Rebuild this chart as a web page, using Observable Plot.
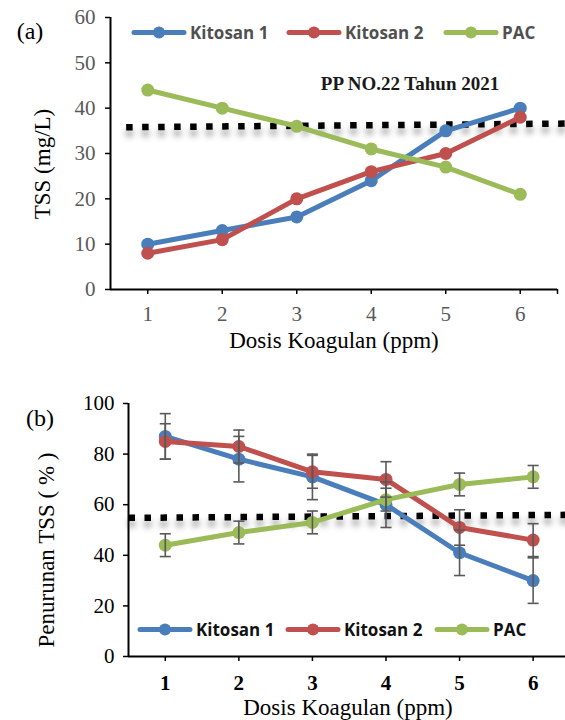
<!DOCTYPE html>
<html><head><meta charset="utf-8">
<script src="https://cdn.jsdelivr.net/npm/d3@7"></script>
<script src="https://cdn.jsdelivr.net/npm/@observablehq/plot@0.6"></script>
<style>
body{margin:0;background:#fff;}
#wrap{position:relative;width:565px;height:720px;overflow:hidden;font-family:"Liberation Serif","Times New Roman",serif;}
.panel{position:absolute;left:0;width:565px;height:360px;}
.ov{position:absolute;white-space:nowrap;transform:translate(-50%,-50%);line-height:1;}
.rot{transform:translate(-50%,-50%) rotate(-90deg);}
.leg{position:absolute;display:flex;align-items:center;transform:translateY(-50%);font-family:"Open Sans",sans-serif;font-weight:700;font-size:17px;white-space:nowrap;}
.leg svg{display:block;margin-right:3px;}
</style></head><body><div id="wrap"></div>
<script>
// ---- data ----
const doses = [1, 2, 3, 4, 5, 6];
const seriesNames = ["Kitosan 1", "Kitosan 2", "PAC"];
const seriesColors = ["#4A7EBB", "#C0504D", "#9BBB59"];
// (a) TSS (mg/L)
const tssK1 = [10, 13, 16, 24, 35, 40];
const tssK2 = [8, 11, 20, 26, 30, 38];
const tssPAC = [44, 40, 36, 31, 27, 21];
// (b) Penurunan TSS (%)
const remK1 = [87, 78, 71, 60, 41, 30];
const remK2 = [85, 83, 73, 70, 51, 46];
const remPAC = [44, 49, 53, 62, 68, 71];
const errK1 = [9, 9, 9, 9, 9, 9];
const errK2 = [7, 6.5, 6.5, 7, 7, 6.5];
const errPAC = [4.5, 4.5, 4.5, 4.5, 4.5, 4.5];
// standard (PP NO.22 Tahun 2021) threshold lines
const stdAx = [0.71, 6.62], stdAy = [35.8, 36.6];
const stdBx = [0.5, 6.5], stdBy = [54.8, 56.0];
const stdLabel = ["PP NO.22 Tahun 2021"], stdLabelX = [4.52], stdLabelY = [45.4];
// ticks
const yTicksA = [0, 10, 20, 30, 40, 50, 60];
const yTicksB = [0, 20, 40, 60, 80, 100];
const xTicksA = [1, 2, 3, 4, 5, 6, 6.5];
const xTicksB = [1, 2, 3, 4, 5, 6];

// ---- tidy ----
const tidy = (arrs, errs) => seriesNames.flatMap((s, i) => doses.map((d, j) => ({
  series: s, dose: d, value: arrs[i][j],
  lo: errs ? arrs[i][j] - errs[i][j] : null, hi: errs ? arrs[i][j] + errs[i][j] : null
})));
const dataA = tidy([tssK1, tssK2, tssPAC]);
const dataB = tidy([remK1, remK2, remPAC], [errK1, errK2, errPAC]);
const refA = stdAx.map((x, i) => ({x, y: stdAy[i]}));
const refB = stdBx.map((x, i) => ({x, y: stdBy[i]}));
const annA = stdLabel.map((t, i) => ({t, x: stdLabelX[i], y: stdLabelY[i]}));

const shadow = "drop-shadow(0px 6px 3px rgba(0,0,0,0.4))";
const dotted = {stroke: "black", strokeWidth: 6.5, strokeDasharray: "6.5,9.5", strokeLinecap: "butt", imageFilter: shadow};
const wrap = document.getElementById("wrap");

function seriesMarks(data) {
  return seriesNames.flatMap(s => {
    const d = data.filter(r => r.series === s);
    return [
      Plot.line(d, {x: "dose", y: "value", stroke: "series", strokeWidth: 5}),
      Plot.dot(d, {x: "dose", y: "value", fill: "series", r: 6.5})
    ];
  });
}

const plotA = Plot.plot({
  width: 565, height: 360,
  marginTop: 17, marginBottom: 71, marginLeft: 110, marginRight: 8,
  x: {domain: [0.5, 6.5]},
  y: {domain: [0, 60]},
  color: {domain: seriesNames, range: seriesColors},
  style: {fontFamily: "Liberation Serif, serif", fontSize: "20px", background: "transparent", overflow: "visible"},
  marks: [
    Plot.axisY({ticks: yTicksA, tickSize: 5, tickPadding: 10, fill: "#595959", stroke: "black", strokeWidth: 1.5, fontSize: 21, label: null}),
    Plot.axisX({ticks: xTicksA, tickSize: 5, tickPadding: 12, fill: "#595959", stroke: "black", strokeWidth: 1.5, fontSize: 21, label: null,
      tickFormat: d => Number.isInteger(d) ? String(d) : ""}),
    Plot.ruleX([0.5], {y1: 0, y2: 60, stroke: "black", strokeWidth: 2}),
    Plot.ruleY([0], {x1: 0.5, x2: 6.5, stroke: "black", strokeWidth: 2}),
    Plot.line(refA, {x: "x", y: "y", ...dotted}),
    ...seriesMarks(dataA),
    Plot.text(annA, {x: "x", y: "y", text: "t", fontWeight: "bold", fontSize: 19, fontFamily: "Liberation Serif, serif", fill: "#1a1a1a"})
  ]
});

const plotB = Plot.plot({
  width: 565, height: 360,
  marginTop: 43, marginBottom: 64, marginLeft: 128, marginRight: 0,
  x: {domain: [0.5, 6.44]},
  y: {domain: [0, 100]},
  color: {domain: seriesNames, range: seriesColors},
  style: {fontFamily: "Liberation Serif, serif", fontSize: "20px", background: "transparent", overflow: "visible"},
  marks: [
    Plot.axisY({ticks: yTicksB, tickSize: 5, tickPadding: 9, fill: "black", stroke: "black", strokeWidth: 1.5, fontSize: 21, label: null}),
    Plot.axisX({ticks: xTicksB, tickSize: 5, tickPadding: 14, fill: "black", stroke: "black", strokeWidth: 1.5, fontSize: 21, fontWeight: "bold", label: null,
      tickFormat: d => String(d)}),
    Plot.ruleX([0.5], {y1: 0, y2: 100, stroke: "black", strokeWidth: 2}),
    Plot.ruleY([0], {x1: 0.5, x2: 6.44, stroke: "black", strokeWidth: 2}),
    Plot.line(refB, {x: "x", y: "y", ...dotted}),
    ...seriesMarks(dataB),
    Plot.ruleX(dataB, {x: "dose", y1: "lo", y2: "hi", stroke: "#595959", strokeWidth: 1.6}),
    Plot.link(dataB, {x1: d => d.dose - 0.075, x2: d => d.dose + 0.075, y1: "hi", y2: "hi", stroke: "#595959", strokeWidth: 1.6}),
    Plot.link(dataB, {x1: d => d.dose - 0.075, x2: d => d.dose + 0.075, y1: "lo", y2: "lo", stroke: "#595959", strokeWidth: 1.6})
  ]
});

const pA = document.createElement("div"); pA.className = "panel"; pA.style.top = "0px"; pA.appendChild(plotA); wrap.appendChild(pA);
const pB = document.createElement("div"); pB.className = "panel"; pB.style.top = "360px"; pB.appendChild(plotB); wrap.appendChild(pB);

// overlay texts
function ov(text, x, y, size, cls) {
  const el = document.createElement("div");
  el.className = "ov " + (cls || "");
  el.textContent = text;
  el.style.left = x + "px"; el.style.top = y + "px"; el.style.fontSize = size + "px";
  wrap.appendChild(el);
}
ov("(a)", 30, 31, 24);
ov("TSS (mg/L)", 42, 164, 23, "rot");
ov("Dosis Koagulan (ppm)", 334, 340, 23);
ov("(b)", 40, 418, 24);
ov("Penurunan TSS ( % )", 46, 550, 23, "rot");
ov("Dosis Koagulan (ppm)", 348, 707, 23);

// legends
function legend(xs, y, color) {
  seriesNames.forEach((s, i) => {
    const el = document.createElement("div");
    el.className = "leg";
    el.style.left = xs[i] + "px"; el.style.top = y + "px"; el.style.color = color;
    el.innerHTML = `<svg width="56" height="16"><line x1="3" y1="8" x2="53" y2="8" stroke="${seriesColors[i]}" stroke-width="5" stroke-linecap="round"/><circle cx="28" cy="8" r="6" fill="${seriesColors[i]}"/></svg><span>${s}</span>`;
    wrap.appendChild(el);
  });
}
legend([131, 286, 443], 32, "#505050");
legend([137, 285, 434], 629, "#111");
</script></body></html>
